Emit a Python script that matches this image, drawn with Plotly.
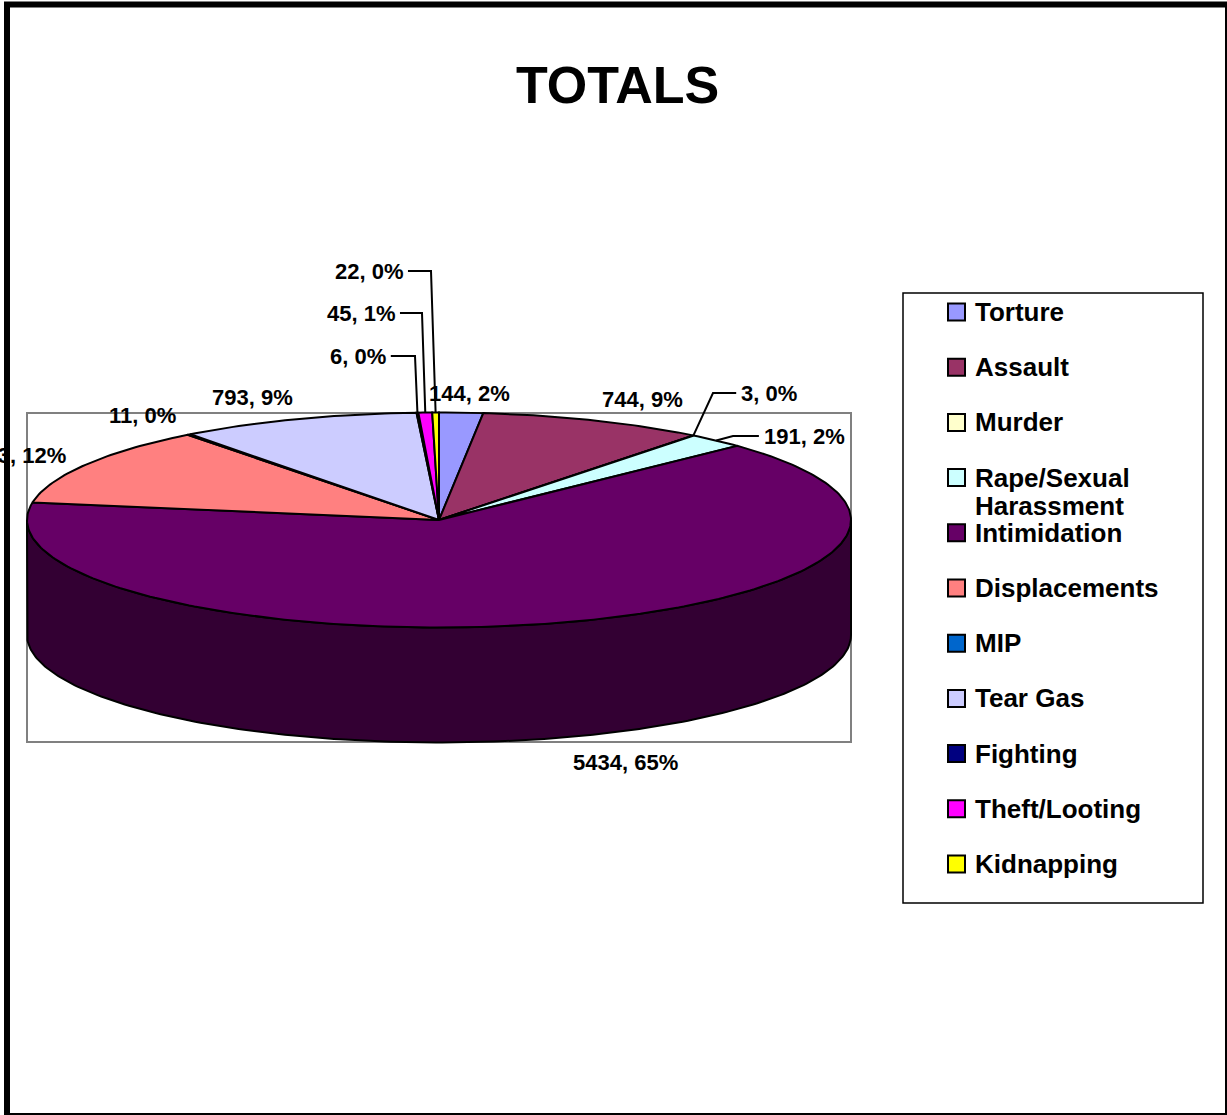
import numpy as np
import plotly.graph_objects as go

# ---------------- data ----------------
categories = ["Torture", "Assault", "Murder", "Rape/Sexual Harassment", "Intimidation",
              "Displacements", "MIP", "Tear Gas", "Fighting", "Theft/Looting", "Kidnapping"]
values = [144, 744, 3, 191, 5434, 1003, 11, 793, 6, 45, 22]
colors = ["#9999FF", "#993366", "#FFFFCC", "#CCFFFF", "#660066",
          "#FF8080", "#0066CC", "#CCCCFF", "#000080", "#FF00FF", "#FFFF00"]
title_text = "TOTALS"

# ---------------- layout constants (pixels) ----------------
W, H = 1227, 1115
CX, CY, RX, RY, DEPTH = 439, 520, 412, 107.5, 115
FONT = "Liberation Sans, Arial, sans-serif"
LW = 2

# label placement: (x, y, xanchor, leader bend point or None)
label_layout = [
    (469, 393, "center", None),
    (642, 399, "center", None),
    (769, 393, "center", (713, 393)),
    (804, 436, "center", (733, 436)),
    (625, 762, "center", None),
    (68, 455, "right", None),
    (142, 415, "center", None),
    (252, 397, "center", None),
    (358, 356, "center", (415, 356)),
    (361, 313, "center", (422, 313)),
    (369, 271, "center", (431, 271)),
]


def darken(h, f=0.5):
    h = h.lstrip("#")
    r, g, b = (int(h[i:i + 2], 16) for i in (0, 2, 4))
    return "#%02X%02X%02X" % (int(r * f), int(g * f), int(b * f))


def arc(t0, t1, dy=0.0, n=None):
    if n is None:
        n = max(2, int(abs(t1 - t0) / (2 * np.pi) * 400) + 2)
    ts = np.linspace(t0, t1, n)
    return CX + RX * np.sin(ts), CY - RY * np.cos(ts) + dy


total = sum(values)
cum = np.concatenate([[0.0], np.cumsum(values)]) / total * 2 * np.pi

fig = go.Figure()

# side faces (front half only visible)
for i, cat in enumerate(categories):
    lo, hi = max(cum[i], np.pi / 2), min(cum[i + 1], 3 * np.pi / 2)
    if lo < hi:
        xt, yt = arc(lo, hi)
        xb, yb = arc(lo, hi, DEPTH)
        xs = np.concatenate([xt, xb[::-1], xt[:1]])
        ys = np.concatenate([yt, yb[::-1], yt[:1]])
        fig.add_trace(go.Scatter(x=xs, y=ys, mode="lines", fill="toself",
                                 fillcolor=darken(colors[i]),
                                 line=dict(color="black", width=LW),
                                 name=cat, showlegend=False, hoverinfo="skip"))

# top faces
for i, cat in enumerate(categories):
    xa, ya = arc(cum[i], cum[i + 1])
    xs = np.concatenate([[CX], xa, [CX]])
    ys = np.concatenate([[CY], ya, [CY]])
    fig.add_trace(go.Scatter(x=xs, y=ys, mode="lines", fill="toself",
                             fillcolor=colors[i],
                             line=dict(color="black", width=LW),
                             name=cat, showlegend=False,
                             hovertemplate=f"{cat}: {values[i]}<extra></extra>"))

annotations = []
shapes = []

# data labels + leader lines
for i, v in enumerate(values):
    lx, ly, anchor, bend = label_layout[i]
    txt = f"{v}, {round(100 * v / total)}%"
    annotations.append(dict(x=lx, y=ly, xref="x", yref="y", text=txt, showarrow=False,
                            xanchor=anchor, yanchor="middle",
                            font=dict(family=FONT, size=22, color="black", weight="bold")))
    if bend is not None:
        mid = (cum[i] + cum[i + 1]) / 2
        px, py = CX + RX * np.sin(mid), CY - RY * np.cos(mid)
        half = len(txt) * 0.56 * 22 / 2
        ex = lx + half + 2 if bend[0] > lx else lx - half - 2
        fig.add_trace(go.Scatter(x=[ex, bend[0], px], y=[bend[1], bend[1], py], mode="lines",
                                 line=dict(color="black", width=LW),
                                 showlegend=False, hoverinfo="skip"))

# title
annotations.append(dict(x=617, y=85, xref="x", yref="y", text=title_text, showarrow=False,
                        xanchor="center", yanchor="middle",
                        font=dict(family=FONT, size=52, color="black", weight="bold")))

# plot-area rectangle
shapes.append(dict(type="rect", xref="x", yref="y", x0=27, y0=413, x1=851, y1=742,
                   line=dict(color="#808080", width=2), layer="below"))
# outer frame
shapes.append(dict(type="rect", xref="x", yref="y", x0=7, y0=4.5, x1=1228, y1=1116,
                   line=dict(color="black", width=6), layer="above"))

# legend box
shapes.append(dict(type="rect", xref="x", yref="y", x0=903, y0=293, x1=1203, y1=903,
                   line=dict(color="black", width=1.5)))
leg_y0, leg_dy = 312, 55.2
for i, cat in enumerate(categories):
    yc = leg_y0 + i * leg_dy
    shapes.append(dict(type="rect", xref="x", yref="y", x0=948, x1=965, y0=yc - 8.5, y1=yc + 8.5,
                       fillcolor=colors[i], line=dict(color="black", width=2)))
    if "/" in cat and " " in cat:
        first, second = cat.split(" ", 1)
        lines = [(first, yc), (second, yc + 28)]
    else:
        lines = [(cat, yc)]
    for t, y in lines:
        annotations.append(dict(x=973, y=y, xref="x", yref="y", text=t, showarrow=False,
                                xanchor="left", yanchor="middle",
                                font=dict(family=FONT, size=26, color="black", weight="bold")))

fig.update_layout(
    width=W, height=H, autosize=False,
    margin=dict(l=0, r=0, t=0, b=0, pad=0),
    paper_bgcolor="white", plot_bgcolor="white",
    xaxis=dict(range=[0, W], visible=False, fixedrange=True),
    yaxis=dict(range=[H, 0], visible=False, fixedrange=True),
    annotations=annotations, shapes=shapes, showlegend=False,
)

fig.write_html("out.html", config={"displayModeBar": False},
               post_script="document.body.style.margin='0';")
